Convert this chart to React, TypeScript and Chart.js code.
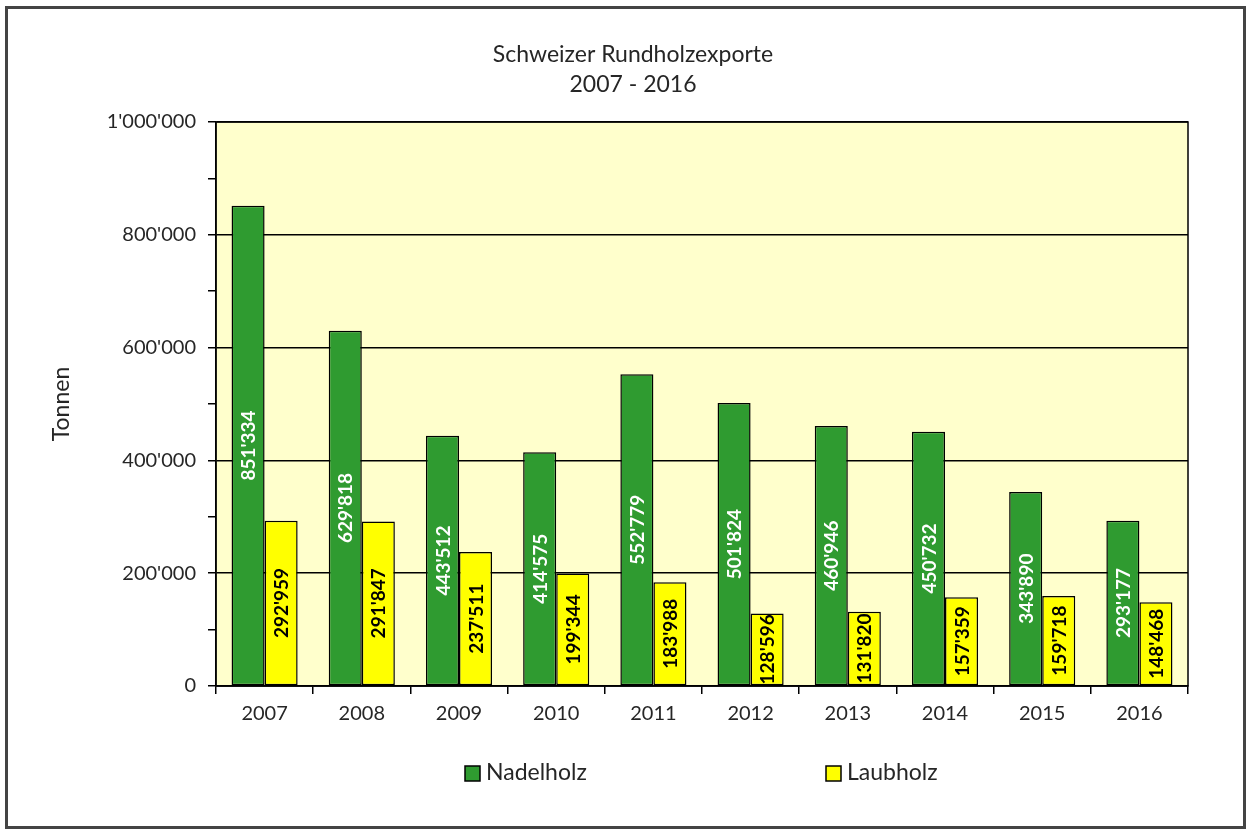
import React, { useEffect, useRef } from "react";
import { Chart, registerables } from "chart.js";

Chart.register(...registerables);

const years = ["2007", "2008", "2009", "2010", "2011", "2012", "2013", "2014", "2015", "2016"];
const nadelholz = [851334, 629818, 443512, 414575, 552779, 501824, 460946, 450732, 343890, 293177];
const laubholz = [292959, 291847, 237511, 199344, 183988, 128596, 131820, 157359, 159718, 148468];
const titleLines = ["Schweizer Rundholzexporte", "2007 - 2016"];
const yAxisTitle = "Tonnen";
const seriesNames = ["Nadelholz", "Laubholz"];

const FONT = "Lato, 'Open Sans', sans-serif";
const GREEN = "#2f9b30";
const YELLOW = "#ffff00";
const PLOT_BG = "#ffffcc";
const TEXT = "#262626";

const fmt = (v: number) => String(Math.round(v)).replace(/\B(?=(\d{3})+(?!\d))/g, "'");

const framePlugin = {
  id: "frame",
  beforeDraw(chart: any) {
    const { ctx, chartArea } = chart;
    ctx.save();
    ctx.fillStyle = "#ffffff";
    ctx.fillRect(0, 0, chart.width, chart.height);
    ctx.strokeStyle = "#444";
    ctx.lineWidth = 3;
    ctx.strokeRect(6.5, 7.5, chart.width - 12, chart.height - 9);
    ctx.fillStyle = PLOT_BG;
    ctx.fillRect(chartArea.left, chartArea.top, chartArea.right - chartArea.left, chartArea.bottom - chartArea.top);
    // title
    ctx.fillStyle = TEXT;
    ctx.font = `23px ${FONT}`;
    ctx.textAlign = "center";
    ctx.textBaseline = "middle";
    ctx.fillText(titleLines[0], 633, 55);
    ctx.fillText(titleLines[1], 633, 85);
    ctx.restore();
  },
  beforeDatasetsDraw(chart: any) {
    const { ctx, chartArea } = chart;
    ctx.save();
    ctx.strokeStyle = "#000";
    ctx.lineWidth = 1.5;
    ctx.strokeRect(chartArea.left, chartArea.top, chartArea.right - chartArea.left, chartArea.bottom - chartArea.top);
    ctx.restore();
  },
  afterDatasetsDraw(chart: any) {
    const { ctx } = chart;
    ctx.save();
    ctx.font = `bold 19px ${FONT}`;
    ctx.textAlign = "center";
    ctx.textBaseline = "middle";
    chart.data.datasets.forEach((ds: any, di: number) => {
      const meta = chart.getDatasetMeta(di);
      meta.data.forEach((bar: any, i: number) => {
        const cy = (bar.y + bar.base) / 2;
        ctx.save();
        ctx.translate(bar.x, cy);
        ctx.rotate(-Math.PI / 2);
        ctx.fillStyle = di === 0 ? "#ffffff" : "#000000";
        ctx.fillText(fmt(ds.data[i]), 0, 1);
        ctx.restore();
      });
    });
    // legend
    const legendX = [465, 826];
    const ly = 773;
    ctx.font = `23px ${FONT}`;
    ctx.textAlign = "left";
    ctx.textBaseline = "middle";
    chart.data.datasets.forEach((ds: any, di: number) => {
      const x = legendX[di];
      ctx.fillStyle = ds.backgroundColor;
      ctx.fillRect(x, ly - 7, 15, 15);
      ctx.strokeStyle = "#000";
      ctx.lineWidth = 1.5;
      ctx.strokeRect(x, ly - 7, 15, 15);
      ctx.fillStyle = TEXT;
      ctx.fillText(ds.label, x + 21, ly);
    });
    ctx.restore();
  },
};

export default function App() {
  const ref = useRef<HTMLCanvasElement | null>(null);
  useEffect(() => {
    document.body.style.margin = "0";
    if (!ref.current) return;
    const chart = new Chart(ref.current, {
      type: "bar",
      data: {
        labels: years,
        datasets: [
          {
            label: seriesNames[0],
            data: nadelholz,
            backgroundColor: GREEN,
            borderColor: "#000",
            borderWidth: 1.5,
            borderSkipped: false,
            categoryPercentage: 0.68,
            barPercentage: 1.0,
          },
          {
            label: seriesNames[1],
            data: laubholz,
            backgroundColor: YELLOW,
            borderColor: "#000",
            borderWidth: 1.5,
            borderSkipped: false,
            categoryPercentage: 0.68,
            barPercentage: 1.0,
          },
        ],
      },
      options: {
        animation: false,
        responsive: false,
        layout: { padding: { top: 122, right: 62, bottom: 93, left: 40 } },
        plugins: { legend: { display: false }, title: { display: false }, tooltip: { enabled: false } },
        scales: {
          x: {
            grid: {
              offset: true,
              drawOnChartArea: false,
              drawTicks: true,
              tickLength: 8,
              color: "#000",
              lineWidth: 1.5,
            },
            border: { display: true, color: "#000", width: 1.5 },
            ticks: { color: TEXT, font: { family: FONT, size: 20 }, padding: 8 },
            afterFit(scale: any) {
              scale.height = 50;
            },
          },
          y: {
            min: 0,
            max: 1000000,
            grid: {
              color: (c: any) => (c.tick && c.tick.value % 200000 === 0 ? "#000" : "rgba(0,0,0,0)"),
              tickColor: "#000",
              lineWidth: 1.5,
              tickLength: 8,
            },
            border: { display: true, color: "#000", width: 1.5 },
            ticks: {
              stepSize: 100000,
              color: TEXT,
              font: { family: FONT, size: 20 },
              padding: 12,
              callback: (v: any) => (Number(v) % 200000 === 0 ? fmt(Number(v)) : ""),
            },
            title: {
              display: true,
              text: yAxisTitle,
              color: TEXT,
              font: { family: FONT, size: 23 },
              padding: { top: 8, bottom: 0 },
            },
            afterFit(scale: any) {
              scale.width = 176;
            },
          },
        },
      },
      plugins: [framePlugin],
    });
    return () => chart.destroy();
  }, []);
  return (
    <div style={{ width: 1250, height: 829, position: "relative" }}>
      <canvas ref={ref} width={1250} height={829} style={{ display: "block" }} />
    </div>
  );
}
